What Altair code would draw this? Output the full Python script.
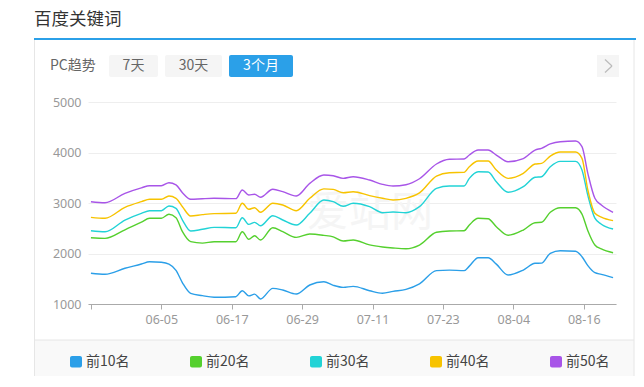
import altair as alt
import pandas as pd

# ---------------- data ----------------
series_names = ["前10名", "前20名", "前30名", "前40名", "前50名"]
series_colors = ["#2b9fe8", "#55d02e", "#22d3d6", "#f7c300", "#a855e8"]

# day offsets from 2023-05-24 where values were read
days = [0, 2.4, 5.8, 8.6, 10, 12, 13.3, 14.5, 15.6, 17, 19, 21, 24.7, 25.8, 26.9,
        27.9, 28.9, 31, 32.7, 35, 37.3, 39.7, 41.3, 43, 44.7, 47.5, 49.7, 51.5, 53.7,
        56, 58.9, 61.1, 63.6, 64.5, 66, 67.7, 69.1, 71.1, 73.7, 75.7, 76.8, 78.3, 80,
        82.6, 83.7, 84.7, 85.9, 87, 89]

top10 = [1610, 1590, 1707, 1792, 1838, 1826, 1790, 1665, 1420, 1210,
         1165, 1135, 1145, 1263, 1160, 1195, 1100, 1310, 1277, 1198,
         1376, 1440, 1370, 1330, 1350, 1263, 1212, 1250, 1290, 1400,
         1660, 1670, 1660, 1750, 1917, 1917, 1790, 1574, 1673, 1806,
         1810, 2004, 2055, 2044, 1937, 1760, 1620, 1588, 1521]
top20 = [2313, 2300, 2470, 2620, 2697, 2697, 2776, 2710, 2432, 2234,
         2205, 2234, 2234, 2432, 2281, 2352, 2267, 2511, 2432, 2320,
         2386, 2360, 2330, 2247, 2267, 2170, 2130, 2110, 2095, 2168,
         2420, 2445, 2450, 2564, 2697, 2689, 2531, 2360, 2465, 2610,
         2618, 2816, 2907, 2907, 2780, 2450, 2168, 2090, 2016]
top30 = [2451, 2432, 2663, 2796, 2848, 2848, 2940, 2895, 2663, 2445,
         2479, 2518, 2511, 2709, 2577, 2617, 2550, 2748, 2663, 2564,
         2796, 3059, 3026, 2935, 2994, 2927, 2808, 2822, 2808, 2927,
         3290, 3336, 3336, 3488, 3620, 3614, 3422, 3212, 3323, 3509,
         3521, 3719, 3825, 3825, 3653, 3150, 2700, 2580, 2485]
top40 = [2716, 2697, 2915, 3026, 3073, 3073, 3138, 3093, 2927, 2742,
         2770, 2790, 2796, 2994, 2875, 2907, 2816, 2994, 2960, 2848,
         3093, 3280, 3270, 3204, 3224, 3145, 3093, 3059, 3093, 3200,
         3534, 3600, 3607, 3719, 3831, 3831, 3653, 3488, 3587, 3772,
         3785, 3930, 4010, 4010, 3884, 3257, 2796, 2720, 2650]
top50 = [3026, 3006, 3192, 3300, 3343, 3343, 3402, 3360, 3204, 3073,
         3085, 3093, 3086, 3257, 3158, 3172, 3113, 3271, 3224, 3138,
         3389, 3554, 3540, 3488, 3521, 3455, 3370, 3336, 3362, 3480,
         3772, 3865, 3871, 3950, 4049, 4049, 3950, 3818, 3880, 4049,
         4083, 4170, 4214, 4227, 4115, 3587, 3093, 2960, 2816]

tick_dates = ["05-24", "06-05", "06-17", "06-29", "07-11", "07-23", "08-04", "08-16"]
y_ticks = [1000, 2000, 3000, 4000, 5000]
buttons = ["7天", "30天", "3个月"]

# ---------------- build table ----------------
base = pd.Timestamp("2023-05-24")
dates = [(base + pd.Timedelta(days=d)).strftime("%Y-%m-%dT%H:%M:%S") for d in days]
rows = []
for name, vals in zip(series_names, [top10, top20, top30, top40, top50]):
    for dt_, v in zip(dates, vals):
        rows.append({"date": dt_, "value": v, "series": name})
df = pd.DataFrame(rows)

CJK = "Noto Sans CJK SC"
LAT = "Noto Sans"
BLUE = "#2ba0e8"

def dt(md, hours=0):
    m, d = md.split("-")
    return alt.DateTime(year=2023, month=int(m), date=int(d), hours=hours)

one = alt.Data(values=[{"k": 0}])

def rect(x, x2, y, y2, fill, radius=0):
    return alt.Chart(one).mark_rect(fill=fill, cornerRadius=radius).encode(
        x=alt.value(x), x2=alt.value(x2), y=alt.value(y), y2=alt.value(y2))

def rule(x, y, x2, y2, color, width=1.0):
    return alt.Chart(one).mark_rule(color=color, strokeWidth=width).encode(
        x=alt.value(x), x2=alt.value(x2), y=alt.value(y), y2=alt.value(y2))

def text(x, y, s, size, color, align="left", font=CJK):
    return alt.Chart(one).mark_text(text=s, fontSize=size, color=color, align=align,
                                    baseline="middle", font=font).encode(
        x=alt.value(x), y=alt.value(y))

# ---------------- main lines ----------------
lines = alt.Chart(df).mark_line(interpolate="monotone", strokeWidth=1.4).encode(
    x=alt.X("date:T",
            scale=alt.Scale(domain=[dt("05-23", 12), dt("08-21", 12)]),
            axis=alt.Axis(values=[dt(t) for t in tick_dates], format="%m-%d",
                          labelExpr="datum.label == '05-24' ? '' : datum.label",
                          title=None, grid=False, domainColor="#aaaaaa",
                          tickColor="#aaaaaa", tickSize=5, labelColor="#999999",
                          labelFontSize=12.5, labelFont=LAT, labelPadding=4,
                          labelOverlap=False)),
    y=alt.Y("value:Q",
            scale=alt.Scale(domain=[1000, 5000], nice=False, zero=False),
            axis=alt.Axis(values=y_ticks, format="d", title=None, domain=False,
                          ticks=False, tickSize=0, gridColor="#eeeeee",
                          labelColor="#999999", labelFontSize=12.5, labelFont=LAT,
                          labelPadding=7)),
    color=alt.Color("series:N", scale=alt.Scale(domain=series_names, range=series_colors),
                    legend=None),
)

layers = []
# legend band and box borders
layers.append(rect(-53, 546, 238, 290, "#f9f9f9"))
layers.append(rule(-53, 238, 546, 238, "#e6e6e6"))
layers.append(rule(-53.5, -62, -53.5, 290, "#e6e6e6"))
layers.append(rule(546, -62, 546, 290, "#e6e6e6"))
# watermark
layers.append(text(282, 111, "爱站网", 42, "#f5f5f5", align="center"))
layers.append(lines)
# title & top blue line
layers.append(text(-54, -82, "百度关键词", 17.5, "#333333"))
layers.append(rect(-54, 570, -64, -62, BLUE))
# controls
layers.append(text(-38, -36, "PC趋势", 14, "#666666"))
btn_x = [(21, 70), (77, 134), (141, 205)]
for (bx, bx2), lab in zip(btn_x, buttons):
    sel = lab == "3个月"
    layers.append(rect(bx, bx2, -47, -25, BLUE if sel else "#f5f5f5", radius=2))
    layers.append(text((bx + bx2) / 2, -36, lab, 14, "#ffffff" if sel else "#666666",
                       align="center"))
layers.append(rect(509, 531, -47, -25, "#f5f5f5"))
layers.append(rule(517, -42.5, 524, -36, "#bbbbbb", 1.2))
layers.append(rule(524, -36, 517, -29.5, "#bbbbbb", 1.2))
# custom legend
for i, (nm, col) in enumerate(zip(series_names, series_colors)):
    lx = -18 + 120 * i
    layers.append(rect(lx, lx + 12, 254, 265.5, col, radius=2))
    layers.append(text(lx + 16, 259.5, nm, 14, "#444444"))

chart = alt.layer(*layers).properties(
    width=528, height=202,
    padding={"left": 80, "top": 94, "right": 20, "bottom": 72},
    autosize=alt.AutoSizeParams(type="none"),
).configure_view(stroke=None)

chart.save("out.html", embed_options={"renderer": "svg", "actions": False})
